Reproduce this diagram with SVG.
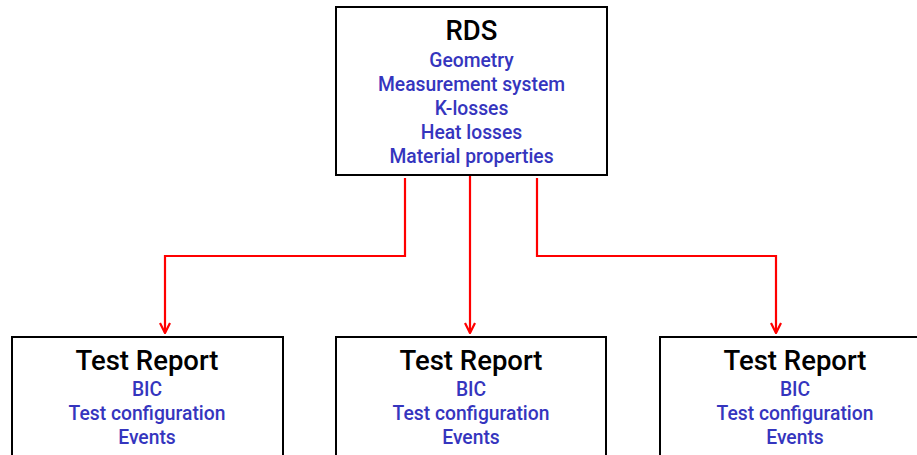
<svg xmlns="http://www.w3.org/2000/svg" width="917" height="455" viewBox="0 0 917 455">
<style>
.box{fill:#fff;stroke:#000;stroke-width:2}
.title{font-family:Roboto,"Liberation Sans",Arial,sans-serif;font-weight:500;font-size:27.5px;fill:#000;text-anchor:middle}
.item{font-family:Roboto,"Liberation Sans",Arial,sans-serif;font-weight:500;font-size:19.3px;fill:#3535be;text-anchor:middle}
.conn{fill:none;stroke:#ff0000;stroke-width:2.2}
</style>
<defs>
<marker id="arr" viewBox="0 0 12 12" refX="11" refY="6" markerWidth="12" markerHeight="12" markerUnits="userSpaceOnUse" orient="auto">
<path d="M1,1 L11,6 L1,11" fill="none" stroke="#ff0000" stroke-width="2.2"/>
</marker>
</defs>
<rect width="917" height="455" fill="#fff"/>
<g id="connectors">
<path class="conn" d="M405,178 V256 H165 V333" marker-end="url(#arr)"/>
<path class="conn" d="M470,175 V333" marker-end="url(#arr)"/>
<path class="conn" d="M537,178 V256 H776 V333" marker-end="url(#arr)"/>
</g>
<g id="rds">
<rect class="box" x="336" y="7" width="271" height="168"/>
<text class="title" x="471.5" y="40">RDS</text>
<text class="item" x="471.5" y="67">Geometry</text>
<text class="item" x="471.5" y="91">Measurement system</text>
<text class="item" x="471.5" y="115">K-losses</text>
<text class="item" x="471.5" y="139">Heat losses</text>
<text class="item" x="471.5" y="163">Material properties</text>
</g>
<g id="report1">
<rect class="box" x="12" y="337" width="271" height="130"/>
<text class="title" x="147" y="370">Test Report</text>
<text class="item" x="147" y="396">BIC</text>
<text class="item" x="147" y="420">Test configuration</text>
<text class="item" x="147" y="444">Events</text>
</g>
<g id="report2">
<rect class="box" x="336" y="337" width="270" height="130"/>
<text class="title" x="471" y="370">Test Report</text>
<text class="item" x="471" y="396">BIC</text>
<text class="item" x="471" y="420">Test configuration</text>
<text class="item" x="471" y="444">Events</text>
</g>
<g id="report3">
<rect class="box" x="660" y="337" width="271" height="130"/>
<text class="title" x="795" y="370">Test Report</text>
<text class="item" x="795" y="396">BIC</text>
<text class="item" x="795" y="420">Test configuration</text>
<text class="item" x="795" y="444">Events</text>
</g>
</svg>
